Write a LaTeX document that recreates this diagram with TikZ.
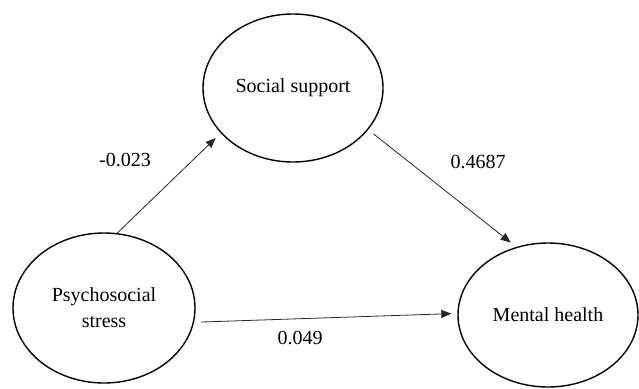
\documentclass[tikz,border=0pt]{standalone}
\usepackage{fontspec}
\setmainfont{Liberation Serif}
\usetikzlibrary{shapes.geometric,arrows.meta}
\begin{document}
\begin{tikzpicture}[x=1pt,y=-1pt,
  var/.style={ellipse,draw=black,line width=1.4pt,inner sep=0pt,align=center,
    font=\fontsize{20}{26}\selectfont},
  path/.style={draw=black!85,line width=0.8pt,-{Triangle[length=10pt,width=8pt]}},
  coef/.style={font=\fontsize{20}{24}\selectfont,inner sep=0pt}]
\useasboundingbox (0,0) rectangle (639,388);
\node[var,minimum width=180pt,minimum height=148pt] (social) at (293,88) {Social support};
\node[var,minimum width=182pt,minimum height=150pt] (psych) at (104,308) {Psychosocial\\stress};
\node[var,minimum width=180pt,minimum height=144pt] (mental) at (548,315) {Mental health};
\draw[path,shorten >=7pt] (psych.80) -- (social.212);
\draw[path,shorten <=7pt,shorten >=7pt] (social.-29) -- (mental.115);
\draw[path,shorten <=7pt,shorten >=6pt] (psych.-9) -- (mental.179);
\node[coef] (c1) at (125,160) {-0.023};
\node[coef] (c2) at (478,162) {0.4687};
\node[coef] (c3) at (300,338) {0.049};
\end{tikzpicture}
\end{document}
